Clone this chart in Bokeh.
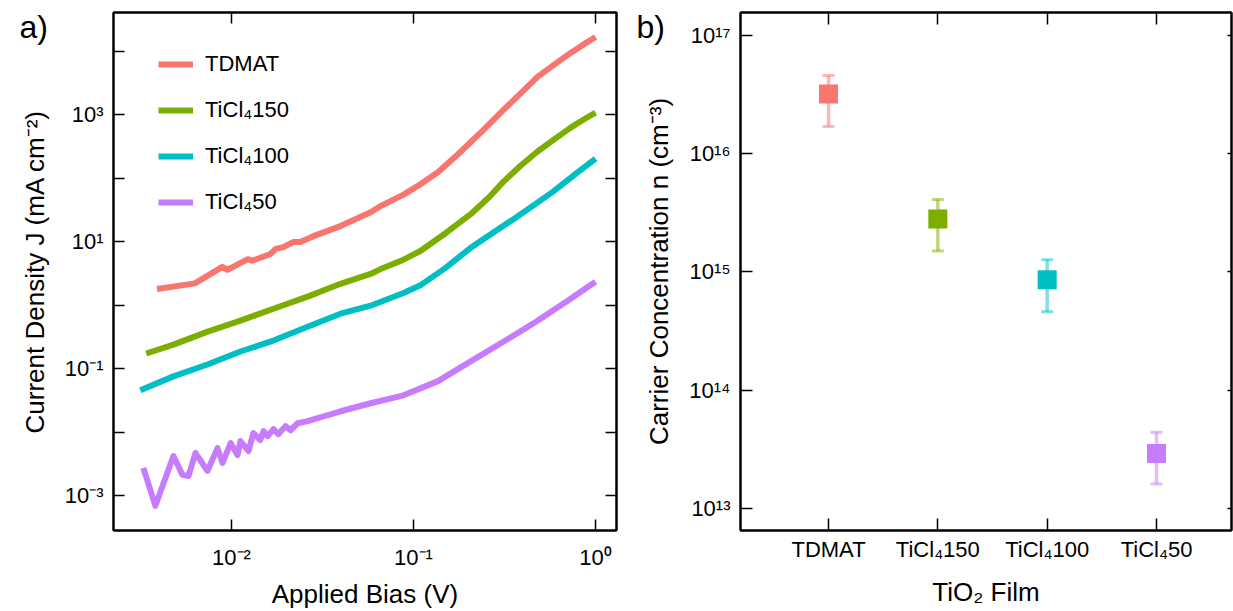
from bokeh.plotting import figure
from bokeh.layouts import row
from bokeh.models import (LogAxis, LinearAxis, FixedTicker, CustomJSTickFormatter,
                          Legend, LegendItem, Range1d, Title, ColumnDataSource)
from bokeh.embed import file_html
from bokeh.resources import INLINE

FONT = "Liberation Sans"

# ---------------- data: panel a) J-V curves ----------------
series_names = ["TDMAT", "TiCl\u2084150", "TiCl\u2084100", "TiCl\u208450"]
colors = ["#F8766D", "#7CAE00", "#00BFC4", "#C77CFF"]

tdmat_v = [0.0039, 0.0063, 0.0089, 0.0095, 0.0123, 0.0130, 0.0164, 0.0175, 0.0193, 0.0219,
           0.0239, 0.0282, 0.0397, 0.0581, 0.0659, 0.0881, 0.109, 0.1355, 0.175, 0.24, 0.313,
           0.39, 0.48, 0.60, 0.73, 0.86, 1.0]
tdmat_j = [1.8, 2.2, 4.0, 3.6, 5.3, 5.0, 6.4, 7.7, 8.2, 9.9,
           9.9, 12.2, 17.6, 29.1, 36.2, 55, 80, 123, 236, 560, 1200,
           2200, 3950, 6300, 9400, 12800, 16700]

ti150_v = [0.0034, 0.0048, 0.0074, 0.0112, 0.0170, 0.0262, 0.0397, 0.0581, 0.0659, 0.0881,
           0.109, 0.150, 0.206, 0.26, 0.313, 0.39, 0.48, 0.60, 0.73, 0.86, 1.0]
ti150_j = [0.173, 0.239, 0.383, 0.569, 0.879, 1.36, 2.17, 3.1, 3.7, 5.2,
           7.13, 13.6, 27.1, 50, 89, 160, 263, 420, 625, 840, 1075]

ti100_v = [0.00316, 0.0048, 0.00738, 0.0112, 0.0170, 0.0262, 0.0397, 0.0581, 0.0881, 0.109,
           0.150, 0.206, 0.28, 0.354, 0.46, 0.587, 0.78, 1.0]
ti100_j = [0.0455, 0.0755, 0.116, 0.186, 0.277, 0.458, 0.733, 0.98, 1.55, 2.05,
           3.86, 8.0, 14.5, 22.6, 38, 62, 118, 204]

ti50_v = [0.00328, 0.00382, 0.0048, 0.00538, 0.00581, 0.00634, 0.00738, 0.00838, 0.00893,
          0.00989, 0.0108, 0.0112, 0.0124, 0.0132, 0.0144, 0.0150, 0.0158, 0.0170, 0.0181,
          0.0198, 0.0211, 0.0231, 0.0262, 0.0397, 0.0581, 0.0881, 0.1355, 0.206, 0.313,
          0.48, 0.60, 0.73, 0.86, 1.0]
ti50_j = [0.00273, 0.00069, 0.0042, 0.00212, 0.00204, 0.00469, 0.00245, 0.0056, 0.00327,
          0.00673, 0.00436, 0.00723, 0.00504, 0.00964, 0.0075, 0.0104, 0.00865, 0.0111, 0.0093,
          0.0124, 0.0107, 0.0138, 0.0149, 0.0213, 0.0285, 0.038, 0.063, 0.130, 0.267,
          0.569, 0.87, 1.26, 1.75, 2.33]

x_ticks_a = [0.01, 0.1, 1.0]
y_ticks_a = [1e-3, 1e-1, 1e1, 1e3]
y_minor_a = [1e-2, 1e0, 1e2, 1e4]

# ---------------- data: panel b) carrier concentration ----------------
films = ["TDMAT", "TiCl\u2084150", "TiCl\u2084100", "TiCl\u208450"]
carrier_n = [3.2e16, 2.8e15, 8.6e14, 2.9e13]
carrier_hi = [4.6e16, 4.1e15, 1.27e15, 4.4e13]
carrier_lo = [1.7e16, 1.5e15, 4.6e14, 1.6e13]
y_ticks_b = [1e13, 1e14, 1e15, 1e16, 1e17]

SUP_JS = """
const sup = {"-":"\\u207b","0":"\\u2070","1":"\\u00b9","2":"\\u00b2","3":"\\u00b3",
             "4":"\\u2074","5":"\\u2075","6":"\\u2076","7":"\\u2077","8":"\\u2078","9":"\\u2079"};
const e = Math.round(Math.log10(tick));
let s = "10";
for (const c of String(e)) { s += sup[c]; }
return s;
"""


def log_fmt():
    return CustomJSTickFormatter(code=SUP_JS)


def style_axis(ax, tick_in=11, show_labels=True):
    ax.major_tick_in = tick_in
    ax.major_tick_out = 0
    ax.minor_tick_in = tick_in
    ax.minor_tick_out = 0
    ax.minor_tick_line_width = 1.5
    ax.minor_tick_line_color = "black"
    ax.axis_line_width = 2
    ax.axis_line_color = "black"
    ax.major_tick_line_width = 1.5
    ax.major_tick_line_color = "black"
    ax.major_label_text_font = FONT
    ax.major_label_text_color = "black"
    ax.axis_label_text_font = FONT
    ax.axis_label_text_font_style = "normal"
    ax.axis_label_text_font_size = "26px"
    ax.axis_label_text_color = "black"
    if show_labels:
        ax.major_label_text_font_size = "22px"
        ax.major_label_standoff = 10
    else:
        ax.major_label_text_font_size = "1px"
        ax.major_label_text_alpha = 0
        ax.major_label_standoff = 0


def panel_letter(text, offset):
    # a negative standoff lets the letter sit beside the frame's top-left corner
    return Title(text=text, align="left", offset=offset, standoff=-64,
                 vertical_align="bottom", text_font=FONT, text_font_size="32px",
                 text_font_style="normal", text_color="black")


# ================= panel a =================
p1 = figure(width=630, height=611, x_axis_type="log", y_axis_type="log",
            x_range=Range1d(0.002249, 1.303), y_range=Range1d(2.82e-4, 4.07e4),
            output_backend="svg", toolbar_location=None,
            min_border_left=113, min_border_right=14, min_border_top=12, min_border_bottom=78)
p1.title = panel_letter("a)", -94)
p1.grid.visible = False
p1.outline_line_color = "black"
p1.outline_line_width = 2

p1.xaxis.ticker = FixedTicker(ticks=x_ticks_a)
p1.xaxis.formatter = log_fmt()
p1.yaxis.ticker = FixedTicker(ticks=y_ticks_a, minor_ticks=y_minor_a)
p1.yaxis.formatter = log_fmt()
p1.xaxis.axis_label = "Applied Bias (V)"
p1.yaxis.axis_label = "Current Density J (mA cm\u207b\u00b2)"
for ax in p1.xaxis + p1.yaxis:
    style_axis(ax)
p1.xaxis.major_label_standoff = 14
p1.xaxis.axis_label_standoff = 6
p1.yaxis.axis_label_standoff = 12

top1 = LogAxis(ticker=FixedTicker(ticks=x_ticks_a), formatter=log_fmt())
style_axis(top1, show_labels=False)
p1.add_layout(top1, "above")
right1 = LogAxis(ticker=FixedTicker(ticks=y_ticks_a, minor_ticks=y_minor_a), formatter=log_fmt())
style_axis(right1, show_labels=False)
p1.add_layout(right1, "right")

renderers = []
for vs, js, c in zip([tdmat_v, ti150_v, ti100_v, ti50_v],
                     [tdmat_j, ti150_j, ti100_j, ti50_j], colors):
    r = p1.line(vs, js, line_color=c, line_width=6, line_join="round")
    renderers.append(r)

legend = Legend(items=[LegendItem(label=n, renderers=[r]) for n, r in zip(series_names, renderers)],
                location=(45, 313), border_line_color=None, background_fill_alpha=0,
                padding=0, margin=0, spacing=16, glyph_height=30, glyph_width=35,
                label_height=30, label_standoff=12, label_text_font=FONT,
                label_text_font_size="22px", label_text_color="black")
p1.add_layout(legend)

# ================= panel b =================
xs = list(range(1, len(films) + 1))
src = ColumnDataSource(dict(x=xs, n=carrier_n, hi=carrier_hi, lo=carrier_lo, color=colors))

p2 = figure(width=603, height=611, y_axis_type="log",
            x_range=Range1d(0.195, 4.686), y_range=Range1d(10 ** 12.811, 10 ** 17.196),
            output_backend="svg", toolbar_location=None,
            min_border_left=110, min_border_right=2, min_border_top=12, min_border_bottom=78)
p2.title = panel_letter("b)", -104)
p2.grid.visible = False
p2.outline_line_color = "black"
p2.outline_line_width = 2

p2.xaxis.ticker = FixedTicker(ticks=xs)
p2.xaxis.major_label_overrides = {x: f for x, f in zip(xs, films)}
p2.yaxis.ticker = FixedTicker(ticks=y_ticks_b)
p2.yaxis.formatter = log_fmt()
p2.xaxis.axis_label = "TiO\u2082 Film"
p2.yaxis.axis_label = "Carrier Concentration n (cm\u207b\u00b3)"
for ax in p2.xaxis + p2.yaxis:
    style_axis(ax, tick_in=12)
p2.xaxis.major_label_standoff = 6
p2.xaxis.axis_label_standoff = 12
p2.yaxis.axis_label_standoff = 12

top2 = LinearAxis(ticker=FixedTicker(ticks=xs))
style_axis(top2, tick_in=12, show_labels=False)
p2.add_layout(top2, "above")
right2 = LogAxis(ticker=FixedTicker(ticks=y_ticks_b), formatter=log_fmt())
style_axis(right2, tick_in=4, show_labels=False)
p2.add_layout(right2, "right")

p2.segment(x0="x", y0="lo", x1="x", y1="hi", source=src, line_color="color",
           line_width=3.5, line_alpha=0.5)
p2.scatter(x="x", y="hi", source=src, marker="dash", size=12, line_color="color",
           line_width=3, line_alpha=0.5)
p2.scatter(x="x", y="lo", source=src, marker="dash", size=12, line_color="color",
           line_width=3, line_alpha=0.5)
p2.scatter(x="x", y="n", source=src, marker="square", size=19, fill_color="color",
           line_color=None)

layout = row(p1, p2, spacing=0)
open("out.html", "w").write(file_html(layout, INLINE))
